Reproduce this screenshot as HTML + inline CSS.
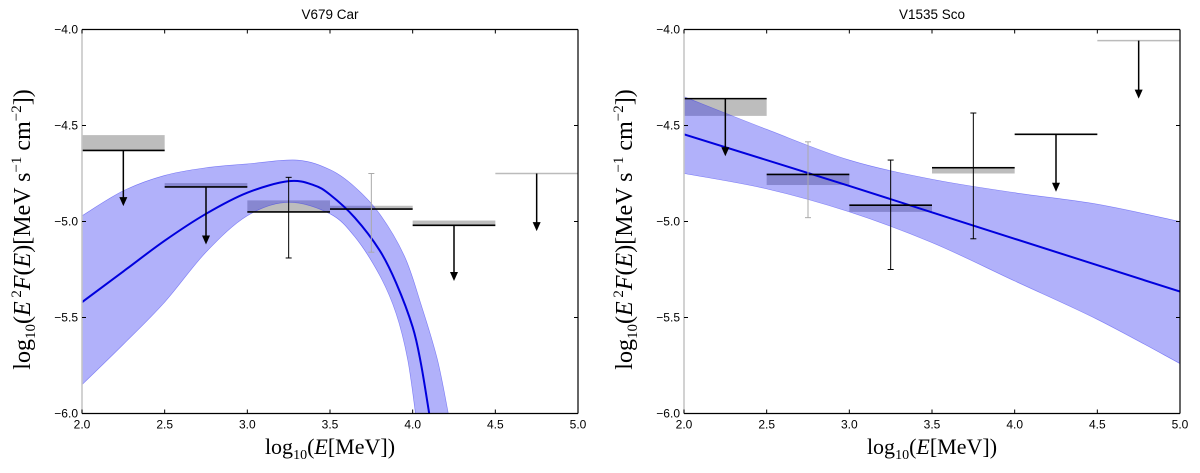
<!DOCTYPE html>
<html><head><meta charset="utf-8"><style>
body{margin:0;background:#fff;width:1200px;height:473px;overflow:hidden}
svg{display:block}
.tick{font-family:"Liberation Sans",sans-serif;font-size:12px;fill:#000}
.ttl{font-family:"Liberation Sans",sans-serif;font-size:13.5px;fill:#000}
.lab{font-family:"Liberation Serif",serif;font-size:22px;fill:#000}
.ylab{font-family:"Liberation Serif",serif;font-size:24px;fill:#000}
</style></head><body>
<svg id="fig" width="1200" height="473"></svg>
<script>
// ---- Data: V679 Car (left) ----
const xTicks=[2.0,2.5,3.0,3.5,4.0,4.5,5.0];
const yTicks=[-4.0,-4.5,-5.0,-5.5,-6.0];
const carBinLo=[2.0,2.5,3.0,3.5,4.0,4.5];
const carBoxTop=[-4.55,-4.80,-4.89,-4.918,-4.995,null];
const carBoxBot=[-4.63,-4.82,-4.95,-4.935,-5.02,null];
const carLine=[-4.63,-4.82,-4.95,-4.935,-5.02,-4.75];
const carLineGrey=[false,false,false,false,false,true];
const carArrowEnd=[-4.92,-5.12,null,null,-5.31,-5.05];
const carErrHi=[null,null,-4.77,-4.75,null,null];
const carErrLo=[null,null,-5.19,-5.16,null,null];
const carErrGrey=[false,false,false,true,false,false];
const carCurveX=[2.0,2.25,2.5,2.75,3.0,3.25,3.4,3.5,3.65,3.8,3.9,4.0,4.05,4.1];
const carCurveY=[-5.42,-5.26,-5.10,-4.96,-4.85,-4.79,-4.81,-4.86,-4.98,-5.15,-5.32,-5.55,-5.74,-6.0];
const carBandX=[2.0,2.25,2.5,2.75,3.0,3.3,3.5,3.65,3.8,3.95,4.05,4.15,4.22];
const carBandHi=[-4.97,-4.84,-4.76,-4.72,-4.70,-4.68,-4.73,-4.82,-4.96,-5.18,-5.43,-5.72,-6.02];
const carBandLoX=[2.0,2.25,2.5,2.75,3.0,3.25,3.5,3.65,3.8,3.9,3.97,4.02];
const carBandLo=[-5.85,-5.64,-5.42,-5.16,-4.97,-4.90,-4.96,-5.08,-5.28,-5.48,-5.72,-6.02];
// ---- Data: V1535 Sco (right) ----
const scoBinLo=[2.0,2.5,3.0,3.5,4.0,4.5];
const scoBoxTop=[-4.36,-4.755,-4.915,-4.715,null,null];
const scoBoxBot=[-4.45,-4.81,-4.95,-4.75,null,null];
const scoLine=[-4.36,-4.755,-4.915,-4.72,-4.546,-4.058];
const scoLineGrey=[false,false,false,false,false,true];
const scoArrowEnd=[-4.66,null,null,null,-4.845,-4.36];
const scoErrHi=[null,-4.585,-4.68,-4.435,null,null];
const scoErrLo=[null,-4.98,-5.25,-5.09,null,null];
const scoErrGrey=[false,true,false,false,false,false];
const scoCurveX=[2.0,3.0,4.0,5.0];
const scoCurveY=[-4.546,-4.815,-5.09,-5.365];
const scoBandX=[2.0,2.5,3.0,3.5,4.0,4.5,5.0];
const scoBandHi=[-4.35,-4.52,-4.68,-4.78,-4.85,-4.91,-5.0];
const scoBandLoX=[2.0,2.5,3.0,3.5,4.0,4.5,5.0];
const scoBandLo=[-4.75,-4.83,-4.95,-5.11,-5.31,-5.51,-5.74];

const NS="http://www.w3.org/2000/svg";
const svg=document.getElementById('fig');
function mk(tag,attrs,parent){const e=document.createElementNS(NS,tag);for(const k in attrs)e.setAttribute(k,attrs[k]);(parent||svg).appendChild(e);return e;}
function smooth(pts,start){
  let c=(start?'M':'L')+pts[0][0]+','+pts[0][1];
  for(let i=0;i<pts.length-1;i++){
    const p0=pts[Math.max(0,i-1)],p1=pts[i],p2=pts[i+1],p3=pts[Math.min(pts.length-1,i+2)];
    c+='C'+(p1[0]+(p2[0]-p0[0])/6)+','+(p1[1]+(p2[1]-p0[1])/6)+' '+(p2[0]-(p3[0]-p1[0])/6)+','+(p2[1]-(p3[1]-p1[1])/6)+' '+p2[0]+','+p2[1];
  }
  return c;
}

function panel(P){
  const X0=P.x0,X1=P.x1,Y0=29.5,Y1=413.5;
  const sx=v=>X0+(v-2)/3*(X1-X0);
  const sy=v=>Y0+(-4-v)/2*(Y1-Y0);
  const g=mk('g',{});
  
  
  const cp=mk('clipPath',{id:'cp'+P.id},g);
  mk('rect',{x:X0,y:Y0,width:X1-X0,height:Y1-Y0},cp);
  const pl=mk('g',{'clip-path':'url(#cp'+P.id+')'},g);
  P.binLo.forEach((b,i)=>{
    if(P.boxTop[i]===null)return;
    const r=mk('rect',{x:sx(b),y:sy(P.boxTop[i]),width:sx(b+0.5)-sx(b),height:sy(P.boxBot[i])-sy(P.boxTop[i]),fill:'#bdbdbd'},pl);
    
    
  });
  const hi=P.bandX.map((x,i)=>[sx(x),sy(P.bandHi[i])]);
  const lo=P.bandLoX.map((x,i)=>[sx(x),sy(P.bandLo[i])]).reverse();
  const d=smooth(hi,true)+smooth(lo,false)+'Z';
  const band=mk('path',{d:d,fill:'rgba(40,40,240,0.36)',stroke:'rgba(40,40,240,0.5)','stroke-width':0.6},pl);
  
  
  const pts=P.cx.map((x,i)=>[sx(x),sy(P.cy[i])]);
  const cu=mk('path',{d:smooth(pts,true),fill:'none',stroke:'#0000dd','stroke-width':2},pl);
  
  
  P.binLo.forEach((b,i)=>{
    const xm=sx(b+0.25);
    const ln=mk('line',{x1:sx(b),x2:sx(b+0.5),y1:sy(P.line[i]),y2:sy(P.line[i]),stroke:P.lineGrey[i]?'#bbbbbb':'#000','stroke-width':1.6},pl);
    
    
    if(P.arrow[i]!==null){
      const ye=sy(P.arrow[i]);
      const a=mk('line',{x1:xm,x2:xm,y1:sy(P.line[i]),y2:ye-8,stroke:'#000','stroke-width':1.5},pl);
      
      
      mk('path',{d:`M${xm-4},${ye-9}L${xm+4},${ye-9}L${xm},${ye}Z`,fill:'#000'},pl);
    }
    if(P.errHi[i]!==null){
      const col=P.errGrey[i]?'#aaaaaa':'#000';
      const e=mk('line',{x1:xm,x2:xm,y1:sy(P.errHi[i]),y2:sy(P.errLo[i]),stroke:col,'stroke-width':1},pl);
      
      
      mk('line',{x1:xm-3,x2:xm+3,y1:sy(P.errHi[i]),y2:sy(P.errHi[i]),stroke:col},pl);
      mk('line',{x1:xm-3,x2:xm+3,y1:sy(P.errLo[i]),y2:sy(P.errLo[i]),stroke:col},pl);
    }
  });
  mk('line',{x1:X0,x2:X1,y1:Y0,y2:Y0,stroke:'#000','stroke-width':1.2},g);
  mk('line',{x1:X1,x2:X1,y1:Y0,y2:Y1,stroke:'#000','stroke-width':1.2},g);
  mk('line',{x1:X0,x2:X1,y1:Y1,y2:Y1,stroke:'#000','stroke-width':1.2},g);
  mk('line',{x1:X0,x2:X0,y1:Y0,y2:Y1,stroke:'#c4c4c4','stroke-width':1.5},g);
  xTicks.forEach(v=>{
    const x=sx(v);
    mk('line',{x1:x,x2:x,y1:Y1,y2:Y1-4,stroke:'#000'},g);
    mk('line',{x1:x,x2:x,y1:Y0,y2:Y0+4,stroke:'#000'},g);
    const t=mk('text',{x:x,y:Y1+15,'text-anchor':'middle',class:'tick'},g);
    t.textContent=v.toFixed(1);
    
    
  });
  yTicks.forEach(v=>{
    const y=sy(v);
    mk('line',{x1:X0,x2:X0+4,y1:y,y2:y,stroke:'#000'},g);
    mk('line',{x1:X1,x2:X1-4,y1:y,y2:y,stroke:'#000'},g);
    const t=mk('text',{x:X0-4,y:y+4,'text-anchor':'end',class:'tick'},g);
    t.textContent='\u2212'+Math.abs(v).toFixed(1);
    
    
  });
  const tt=mk('text',{x:(X0+X1)/2,y:19,'text-anchor':'middle',class:'ttl'},g);
  tt.textContent=P.title;
  
  
  const xl=mk('text',{x:(X0+X1)/2,y:454,'text-anchor':'middle',class:'lab'},g);
  xl.innerHTML='log<tspan font-size="14" dy="5">10</tspan><tspan dy="-5">(</tspan><tspan font-style="italic">E</tspan>[MeV])';
  
  
  const yl=mk('text',{x:0,y:0,'text-anchor':'middle',class:'ylab',transform:`translate(${X0-52},${(Y0+Y1)/2+8}) rotate(-90)`},g);
  yl.innerHTML='log<tspan font-size="15" dy="5">10</tspan><tspan dy="-5">(</tspan><tspan font-style="italic">E</tspan><tspan font-size="15" dy="-9"> 2</tspan><tspan dy="9" font-style="italic">F</tspan>(<tspan font-style="italic">E</tspan>)[MeV s<tspan font-size="15" dy="-9">\u22121</tspan><tspan dy="9"> cm</tspan><tspan font-size="15" dy="-9">\u22122</tspan><tspan dy="9">])</tspan>';
  
  
}
panel({id:1,name:'v679-car-panel',title:'V679 Car',x0:82,x1:578,binLo:carBinLo,boxTop:carBoxTop,boxBot:carBoxBot,line:carLine,lineGrey:carLineGrey,arrow:carArrowEnd,errHi:carErrHi,errLo:carErrLo,errGrey:carErrGrey,cx:carCurveX,cy:carCurveY,bandX:carBandX,bandHi:carBandHi,bandLoX:carBandLoX,bandLo:carBandLo});
panel({id:2,name:'v1535-sco-panel',title:'V1535 Sco',x0:684,x1:1180,binLo:scoBinLo,boxTop:scoBoxTop,boxBot:scoBoxBot,line:scoLine,lineGrey:scoLineGrey,arrow:scoArrowEnd,errHi:scoErrHi,errLo:scoErrLo,errGrey:scoErrGrey,cx:scoCurveX,cy:scoCurveY,bandX:scoBandX,bandHi:scoBandHi,bandLoX:scoBandLoX,bandLo:scoBandLo});
</script>
</body></html>
